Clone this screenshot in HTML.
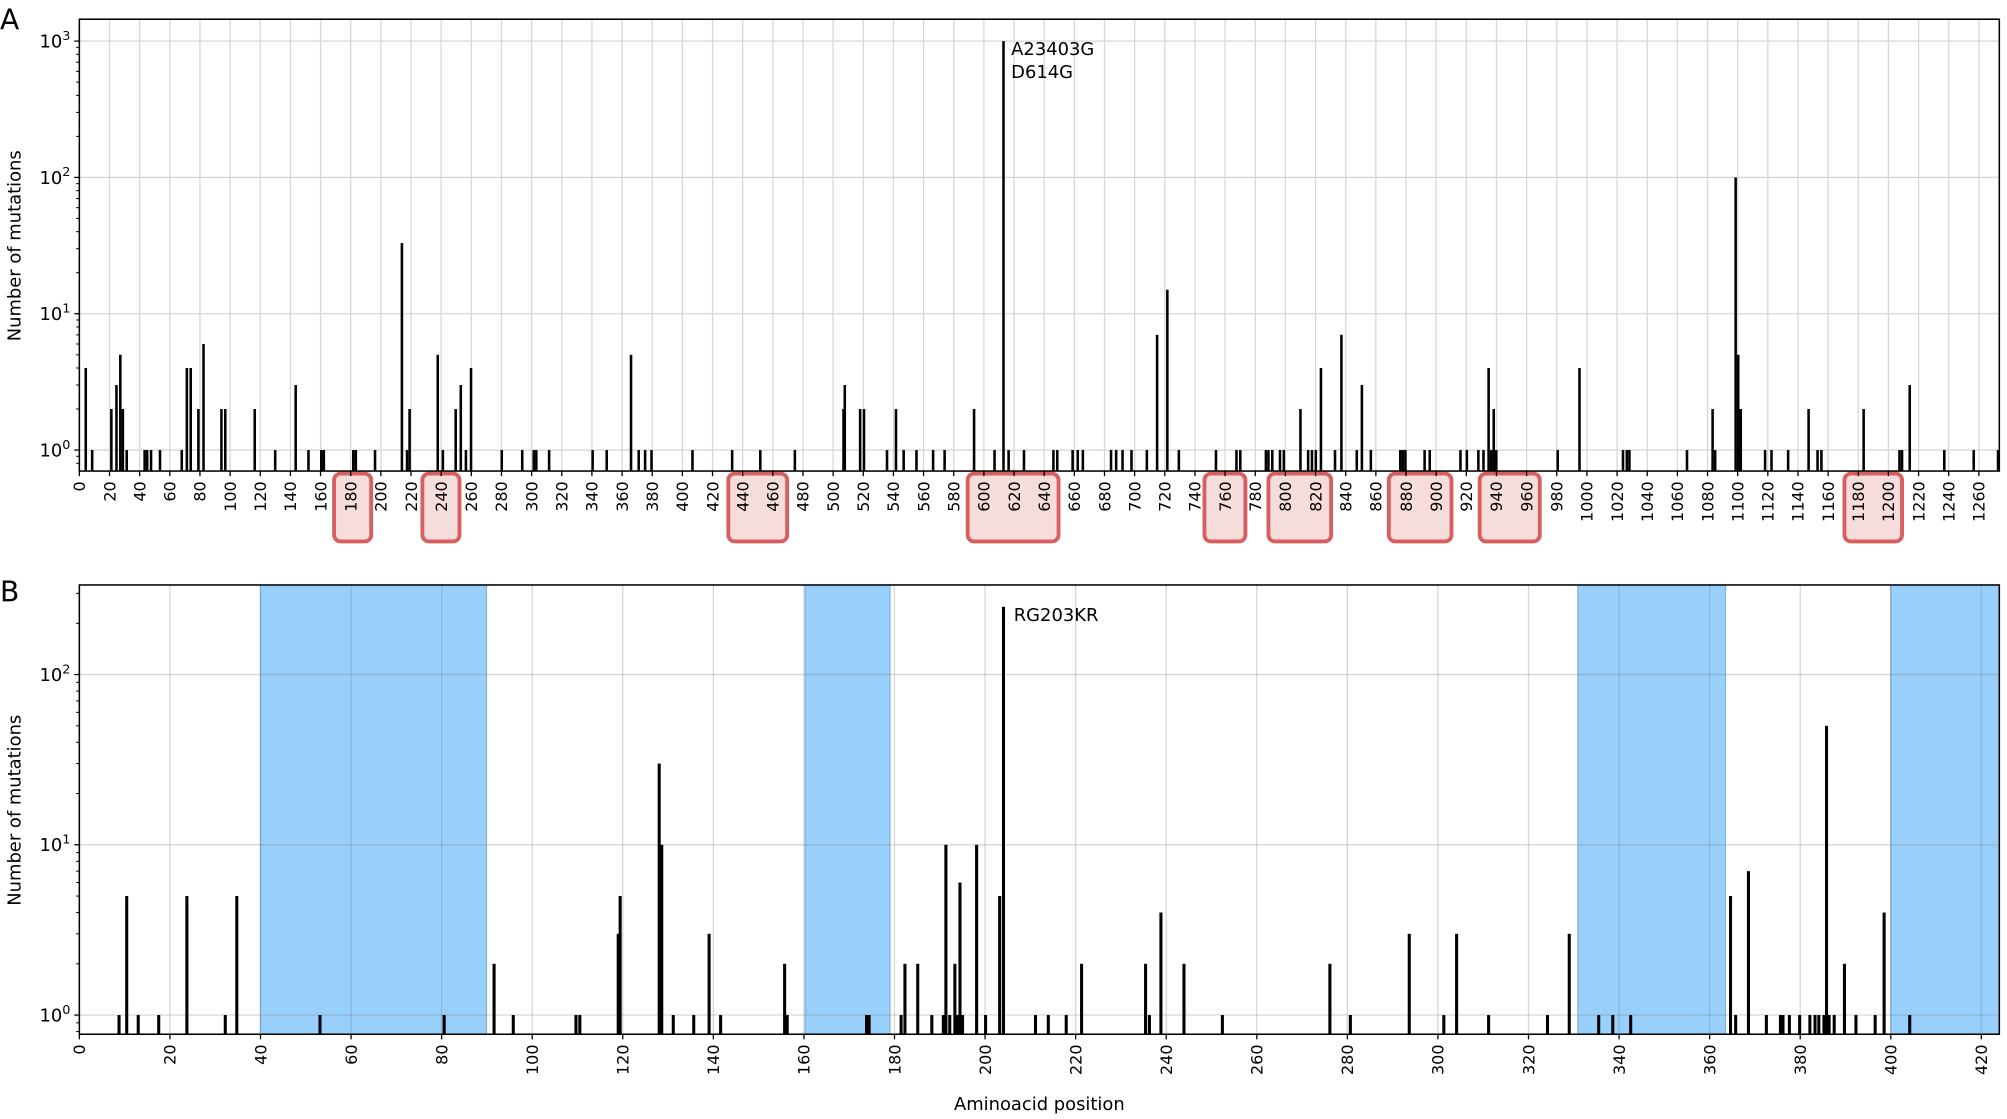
<!DOCTYPE html>
<html><head><meta charset="utf-8"><style>
html,body{margin:0;padding:0;background:#fff;}
svg{display:block;font-family:"DejaVu Sans","Liberation Sans",sans-serif;}
</style></head><body>
<svg id="s" width="2007" height="1119" viewBox="0 0 1568 874.2" xmlns="http://www.w3.org/2000/svg"></svg>
<script>
const S=document.getElementById('s');let h='';
const aL=62,aR=1562,aT=15,aB=368,aU=1.1778,ay0=351.6,aDec=106.5;
const ya=v=>ay0-Math.log10(v)*aDec;
[[261,290],[330,359],[569,615],[756,827],[941,973],[991,1040],[1085,1134],[1156,1203],[1441,1486]].forEach(b=>{
h+=`<rect x="${b[0]}" y="370" width="${b[1]-b[0]}" height="53" rx="5" fill="#f7dcdc" stroke="#d65f5f" stroke-width="3"/>`;});
for(let t=0;t<=1260;t+=20){const x=aL+t*aU;
h+=`<line x1="${x}" y1="${aT}" x2="${x}" y2="${aB}" stroke="#d6d6d6" stroke-width="1"/>`;
h+=`<line x1="${x}" y1="${aB}" x2="${x}" y2="${aB+4}" stroke="#000"/>`;
h+=`<text transform="translate(${x+4.5},${aB+8}) rotate(-90)" text-anchor="end" font-size="12.5">${t}</text>`;}
for(let d=0;d<=3;d++){const y=ya(Math.pow(10,d));
h+=`<line x1="${aL}" y1="${y}" x2="${aR}" y2="${y}" stroke="#d6d6d6"/>`;
h+=`<line x1="${aL-4}" y1="${y}" x2="${aL}" y2="${y}" stroke="#000"/>`;
h+=`<text x="${aL-7}" y="${y+5}" text-anchor="end" font-size="14">10<tspan dy="-6" font-size="10">${d}</tspan></text>`;
for(let m=2;m<10&&d<3;m++){const yy=ya(m*Math.pow(10,d));h+=`<line x1="${aL-2.5}" y1="${yy}" x2="${aL}" y2="${yy}" stroke="#000" stroke-width=".8"/>`;}}
[0.8,0.9].forEach(m=>{const yy=ya(m);h+=`<line x1="${aL-2.5}" y1="${yy}" x2="${aL}" y2="${yy}" stroke="#000" stroke-width=".8"/>`;});
const barsA=[[67,4],[72,1],[87,2],[91,3],[94,5],[96,2],[99,1],[113,1],[115,1],[118,1],[125,1],[142,1],[146,4],[149,4],[155,2],[159,6],[173,2],[176,2],[199,2],[215,1],[231,3],[241,1],[251,1],[253,1],[276,1],[278,1],[293,1],[314,33],[318,1],[320,2],[342,5],[346,1],[356,2],[360,3],[364,1],[368,4],[392,1],[408,1],[417,1],[419,1],[429,1],[463,1],[474,1],[493,5],[499,1],[504,1],[509,1],[541,1],[572,1],[594,1],[621,1],[659,2],[660,3],[672,2],[675,2],[693,1],[700,2],[706,1],[716,1],[729,1],[738,1],[761,2],[777,1],[784,1000],[788,1],[800,1],[823,1],[826,1],[838,1],[842,1],[846,1],[868,1],[872,1],[877,1],[884,1],[896,1],[904,7],[912,15],[921,1],[950,1],[966,1],[969,1],[989,1],[991,1],[994,1],[1000,1],[1003,1],[1016,2],[1022,1],[1025,1],[1028,1],[1032,4],[1043,1],[1048,7],[1060,1],[1064,3],[1071,1],[1094,1],[1096,1],[1098,1],[1113,1],[1117,1],[1141,1],[1146,1],[1155,1],[1159,1],[1163,4],[1165,1],[1167,2],[1169,1],[1217,1],[1234,4],[1268,1],[1271,1],[1273,1],[1318,1],[1338,2],[1340,1],[1356,100],[1358,5],[1360,2],[1379,1],[1384,1],[1397,1],[1413,2],[1420,1],[1423,1],[1456,2],[1484,1],[1486,1],[1492,3],[1519,1],[1542,1],[1561,1]];
barsA.forEach(b=>{const y=ya(b[1]);h+=`<rect x="${b[0]-1}" y="${y}" width="2" height="${aB-y}" fill="#000"/>`;});
h+=`<rect x="${aL}" y="${aT}" width="${aR-aL}" height="${aB-aT}" fill="none" stroke="#000" stroke-width="1.2"/>`;
h+=`<text x="790" y="43" font-size="14">A23403G</text><text x="790" y="61" font-size="14">D614G</text>`;
h+=`<text x="0" y="23" font-size="22">A</text>`;
h+=`<text transform="translate(16,192) rotate(-90)" text-anchor="middle" font-size="14">Number of mutations</text>`;
const bL=62,bR=1562,bT=457,bB=808,bU=3.538,by0=793,bDec=133;
const yb=v=>by0-Math.log10(v)*bDec;
[[40,89.9],[160.3,179],[330.9,363.5],[400,424]].forEach(s=>{const x1=bL+s[0]*bU,x2=Math.min(bR,bL+s[1]*bU);
h+=`<rect x="${x1}" y="${bT}" width="${x2-x1}" height="${bB-bT}" fill="#99d0fb"/><line x1="${x1}" y1="${bT}" x2="${x1}" y2="${bB}" stroke="#7fb6e0"/><line x1="${x2}" y1="${bT}" x2="${x2}" y2="${bB}" stroke="#7fb6e0"/>`;});
for(let t=0;t<=420;t+=20){const x=bL+t*bU;
h+=`<line x1="${x}" y1="${bT}" x2="${x}" y2="${bB}" stroke="rgba(120,120,120,0.3)"/>`;
h+=`<line x1="${x}" y1="${bB}" x2="${x}" y2="${bB+4}" stroke="#000"/>`;
h+=`<text transform="translate(${x+4.5},${bB+8}) rotate(-90)" text-anchor="end" font-size="12.5">${t}</text>`;}
for(let d=0;d<=2;d++){const y=yb(Math.pow(10,d));
h+=`<line x1="${bL}" y1="${y}" x2="${bR}" y2="${y}" stroke="rgba(120,120,120,0.3)"/>`;
h+=`<line x1="${bL-4}" y1="${y}" x2="${bL}" y2="${y}" stroke="#000"/>`;
h+=`<text x="${bL-7}" y="${y+5}" text-anchor="end" font-size="14">10<tspan dy="-6" font-size="10">${d}</tspan></text>`;
for(let m=2;m<10;m++){const yy=yb(m*Math.pow(10,d));if(yy>bT)h+=`<line x1="${bL-2.5}" y1="${yy}" x2="${bL}" y2="${yy}" stroke="#000" stroke-width=".8"/>`;}}
[0.8,0.9].forEach(m=>{const yy=yb(m);h+=`<line x1="${bL-2.5}" y1="${yy}" x2="${bL}" y2="${yy}" stroke="#000" stroke-width=".8"/>`;});
const barsB=[[93,1],[99,5],[108,1],[124,1],[146,5],[176,1],[185,5],[250,1],[347,1],[386,2],[401,1],[450,1],[453,1],[483,3],[484.5,5],[515,30],[517,10],[526,1],[542,1],[554,3],[563,1],[613,2],[615,1],[677,1],[679,1],[704,1],[707,2],[717,2],[728,1],[737,1],[739,10],[742,1],[746,2],[748,1],[750,6],[752,1],[763,10],[770,1],[781,5],[784,250],[809,1],[819,1],[833,1],[845,2],[895,2],[898,1],[907,4],[925,2],[955,1],[1039,2],[1055,1],[1101,3],[1128,1],[1138,3],[1163,1],[1209,1],[1226,3],[1249,1],[1260,1],[1274,1],[1352,5],[1356,1],[1366,7],[1380,1],[1391,1],[1393,1],[1398,1],[1406,1],[1414,1],[1418,1],[1421,1],[1425,1],[1427,50],[1429,1],[1433,1],[1441,2],[1450,1],[1465,1],[1472,4],[1492,1]];
barsB.forEach(b=>{const y=yb(b[1]);h+=`<rect x="${b[0]-1.2}" y="${y}" width="2.4" height="${bB-y}" fill="#000"/>`;});
h+=`<rect x="${bL}" y="${bT}" width="${bR-bL}" height="${bB-bT}" fill="none" stroke="#000" stroke-width="1.2"/>`;
h+=`<text x="792" y="485" font-size="14">RG203KR</text>`;
h+=`<text x="0" y="470" font-size="22">B</text>`;
h+=`<text transform="translate(16,633) rotate(-90)" text-anchor="middle" font-size="14">Number of mutations</text>`;
h+=`<text x="812" y="867" text-anchor="middle" font-size="14">Aminoacid position</text>`;
S.innerHTML=h;
</script>
</body></html>
